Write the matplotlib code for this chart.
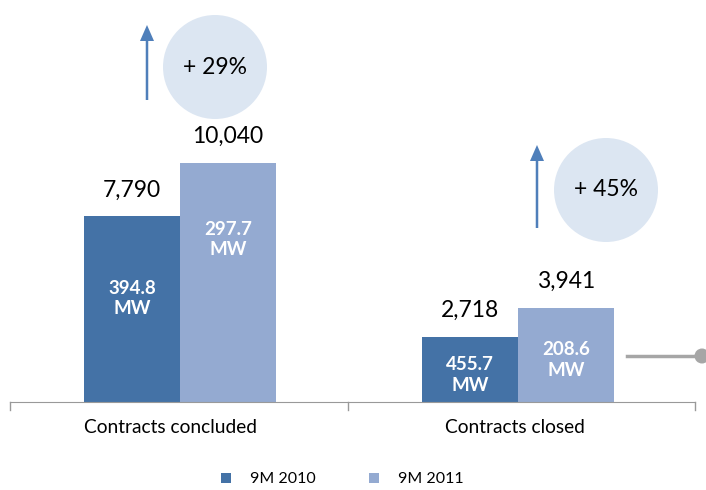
import matplotlib.pyplot as plt
import numpy as np
from matplotlib.patches import Ellipse, Rectangle, FancyArrow

plt.rcParams['font.family'] = ['Lato', 'DejaVu Sans']

# data
categories = ["Contracts concluded", "Contracts closed"]
v2010 = [7790, 2718]
v2011 = [10040, 3941]
mw2010 = ["394.8\nMW", "455.7\nMW"]
mw2011 = ["297.7\nMW", "208.6\nMW"]
growth = ["+ 29%", "+ 45%"]
series = ["9M 2010", "9M 2011"]

dark = "#4472a6"
light = "#94aad1"
circ = "#dce6f2"
arrow_c = "#4f7fba"
grey = "#a6a6a6"

W, H = 706, 490
fig = plt.figure(figsize=(W / 100, H / 100), dpi=100)

def fx(px):
    return px / W

def fy(py):
    return 1 - py / H

# axes: baseline at y=402px, 0 -> x=180px, 1 -> x=518px
ax = fig.add_axes([fx(10), fy(402), 685 / W, 402 / H])
scale = 0.02383  # px per unit
ax.set_ylim(0, 402 / scale)
x0, x1 = (10 - 180) / 338, (695 - 180) / 338
ax.set_xlim(x0, x1)
x = np.arange(len(categories))
w = 96 / 338

ax.bar(x - w / 2, v2010, width=w, color=dark, linewidth=0)
ax.bar(x + w / 2, v2011, width=w, color=light, linewidth=0)

for s in ["top", "right", "left"]:
    ax.spines[s].set_visible(False)
ax.spines["bottom"].set_color("#999999")
ax.set_yticks([])
ax.set_xticks([])

# separator ticks below axis
for t in [x0, 0.497, x1]:
    ax.plot([t, t], [0, -8 / scale], color="#999999", lw=1, clip_on=False)

# value labels
for i in range(len(categories)):
    ax.annotate(f"{v2010[i]:,}", (x[i] - w / 2, v2010[i]), xytext=(0, 19),
                textcoords="offset points", ha="center", va="center", fontsize=16.5)
    ax.annotate(f"{v2011[i]:,}", (x[i] + w / 2, v2011[i]), xytext=(0, 19),
                textcoords="offset points", ha="center", va="center", fontsize=16.5)

# MW labels inside bars (pixel offsets below bar top)
off2010 = [82, 38]
off2011 = [77, 52]
for i in range(len(categories)):
    ax.text(x[i] - w / 2, v2010[i] - off2010[i] / scale, mw2010[i], color="white",
            fontweight="bold", fontsize=13.5, ha="center", va="center", linespacing=1.25)
    ax.text(x[i] + w / 2, v2011[i] - off2011[i] / scale, mw2011[i], color="white",
            fontweight="bold", fontsize=13.5, ha="center", va="center", linespacing=1.25)

# category labels
cat_px = [170, 515]
for c, px in zip(categories, cat_px):
    fig.text(fx(px), fy(427), c, ha="center", va="center", fontsize=13.8)

# growth circles and arrows
circ_c = [(215, 67), (606, 190)]
arr = [(147, 100, 25), (537, 228, 145)]
r = 52
for (cx, cy), g in zip(circ_c, growth):
    fig.patches.append(Ellipse((fx(cx), fy(cy)), 2 * r / W, 2 * r / H,
                               transform=fig.transFigure, color=circ, lw=0))
    fig.text(fx(cx), fy(cy), g, ha="center", va="center", fontsize=16.5)
for ax_px, yb, yt in arr:
    fig.patches.append(FancyArrow(fx(ax_px), fy(yb), 0, (yb - yt) / H,
                                  width=2.5 / W, head_width=14 / W, head_length=16 / H,
                                  length_includes_head=True, transform=fig.transFigure,
                                  color=arrow_c, lw=0))

# grey pointer line with dot
fig.add_artist(plt.Line2D([fx(627), fx(697)], [fy(356), fy(356)], color=grey, lw=2.5))
fig.patches.append(Ellipse((fx(702), fy(356)), 15 / W, 15 / H,
                           transform=fig.transFigure, color=grey, lw=0))

# legend
for px, col, lab in zip([226, 374], [dark, light], series):
    fig.patches.append(Rectangle((fx(px - 5), fy(483)), 10 / W, 10 / H,
                                 transform=fig.transFigure, color=col, lw=0))
    fig.text(fx(px + 24), fy(479), lab, ha="left", va="center", fontsize=11.5)

fig.savefig("out.png", dpi=100)
